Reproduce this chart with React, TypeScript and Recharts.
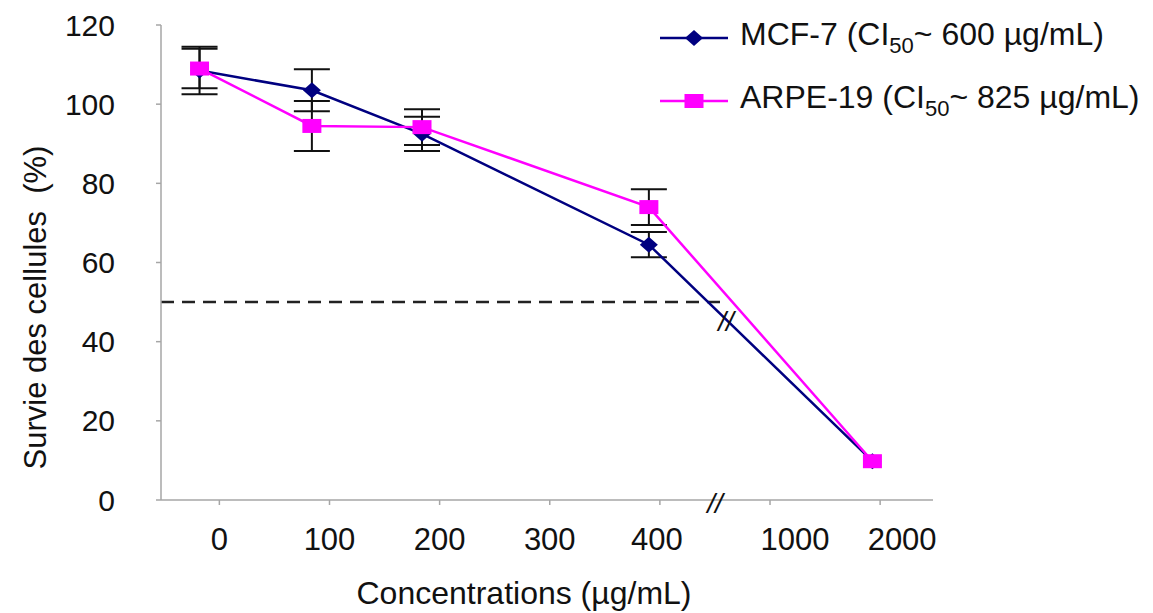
import React from 'react';
import {
  ComposedChart, Line, XAxis, YAxis, ErrorBar, ReferenceLine, ReferenceDot, Label,
} from 'recharts';

const xTickValues = [0, 1, 2, 3, 4, 5, 6];
const xTickLabels = ['0', '100', '200', '300', '400', '1000', '2000'];
const concentrations = ['0', '100', '200', '400', '2000'];
const xPositions = [-0.18, 0.84, 1.84, 3.9, 5.93];
const mcf7 = [108.5, 103.5, 92.5, 64.5, 9.8];
const mcf7Err = [6, 5.3, 4.3, 3.2, 0];
const arpe19 = [109, 94.5, 94.2, 74, 9.8];
const arpe19Err = [5, 6.3, 4.5, 4.5, 0];
const yTicks = [0, 20, 40, 60, 80, 100, 120];
const ic50Level = 50;
const dashEnd = 4.6;
const axisBreakX = 4.5;

// small horizontal nudges of the tick labels, as in the original figure
const tickLabelNudge: Record<string, number> = { '1000': 25, '2000': 22, '400': -3 };

const data = concentrations.map((c, i) => ({
  conc: c,
  x: xPositions[i],
  mcf: mcf7[i],
  mcfErr: mcf7Err[i],
  arpe: arpe19[i],
  arpeErr: arpe19Err[i],
}));

const FONT = '"Liberation Sans", Arial, Helvetica, sans-serif';
const NAVY = '#000080';
const MAGENTA = '#FF00FF';
const AXIS = '#a6a6a6';
const TEXT = '#111111';

const DiamondDot = (props: any) => {
  const { cx, cy } = props;
  if (cx == null || cy == null) return null;
  return (
    <polygon
      points={`${cx},${cy - 8} ${cx + 9},${cy} ${cx},${cy + 8} ${cx - 9},${cy}`}
      fill={NAVY}
    />
  );
};

const SquareDot = (props: any) => {
  const { cx, cy } = props;
  if (cx == null || cy == null) return null;
  return <rect x={cx - 9.5} y={cy - 7} width={19} height={14} fill={MAGENTA} />;
};

const BreakMark = (dy: number) => (props: any) => {
  const { cx, cy } = props;
  return (
    <text
      x={cx}
      y={cy + dy}
      textAnchor="middle"
      dominantBaseline="central"
      fontFamily={FONT}
      fontStyle="italic"
      fontSize={28}
      fill={TEXT}
    >
      //
    </text>
  );
};

const XTick = (props: any) => {
  const { x, y, payload } = props;
  const label = xTickLabels[payload.value] ?? '';
  const dx = tickLabelNudge[label] ?? 0;
  return (
    <text
      x={x + dx}
      y={y}
      dy="0.71em"
      textAnchor="middle"
      fontFamily={FONT}
      fontSize={31}
      fill={TEXT}
    >
      {label}
    </text>
  );
};

const legendRows = [
  { color: NAVY, shape: 'diamond', name: 'MCF-7', val: '600' },
  { color: MAGENTA, shape: 'square', name: 'ARPE-19', val: '825' },
];

const LegendBox = () => (
  <div style={{ position: 'absolute', left: 652, top: -2, fontFamily: FONT, fontSize: 32, color: TEXT }}>
    {legendRows.map((r) => (
      <div key={r.name} style={{ display: 'flex', alignItems: 'center', height: 63, whiteSpace: 'nowrap' }}>
        <svg width={68} height={20} style={{ marginRight: 12 }}>
          <line x1={0} x2={68} y1={10} y2={10} stroke={r.color} strokeWidth={2.5} />
          {r.shape === 'diamond' ? (
            <polygon points="34,2 43,10 34,18 25,10" fill={r.color} />
          ) : (
            <rect x={24.5} y={3} width={19} height={14} fill={r.color} />
          )}
        </svg>
        <span>
          {r.name} (CI<sub style={{ fontSize: 22, verticalAlign: -8 }}>50</sub>~ {r.val} µg/mL)
        </span>
      </div>
    ))}
  </div>
);

export default function App() {
  return (
    <div style={{ position: 'relative', width: 1145, height: 605 }}>
      <ComposedChart
        width={1145}
        height={605}
        data={data}
        margin={{ top: 17, right: 220, bottom: 53, left: 73 }}
        style={{ fontFamily: FONT }}
      >
        <XAxis
          dataKey="x"
          type="number"
          domain={[-0.53, 6.48]}
          allowDataOverflow
          ticks={xTickValues}
          interval={0}
          height={60}
          stroke={AXIS}
          strokeWidth={1.5}
          tickSize={5}
          tickMargin={23}
          tick={<XTick />}
        >
          <Label
            content={(p: any) => {
              const vb = p.viewBox;
              return (
                <text
                  x={vb.x + vb.width / 2 - 23}
                  y={vb.y + 104}
                  textAnchor="middle"
                  fontFamily={FONT}
                  fontSize={32}
                  fill={TEXT}
                >
                  Concentrations (µg/mL)
                </text>
              );
            }}
          />
        </XAxis>
        <YAxis
          type="number"
          domain={[0, 120]}
          ticks={yTicks}
          interval={0}
          width={80}
          stroke={AXIS}
          strokeWidth={1.5}
          tickSize={5}
          tickMargin={41}
          tick={{ fill: TEXT, fontSize: 30, fontFamily: FONT }}
        >
          <Label
            content={(p: any) => {
              const vb = p.viewBox;
              const cx = 27;
              const cy = vb.y + vb.height / 2 + 45;
              return (
                <text
                  x={cx}
                  y={cy}
                  transform={`rotate(-90 ${cx} ${cy})`}
                  textAnchor="middle"
                  dominantBaseline="central"
                  fontFamily={FONT}
                  fontSize={31}
                  fill={TEXT}
                  style={{ whiteSpace: 'pre' }}
                >
                  {'Survie des cellules  (%)'}
                </text>
              );
            }}
          />
        </YAxis>
        <ReferenceLine
          segment={[{ x: -0.53, y: ic50Level }, { x: dashEnd, y: ic50Level }]}
          stroke="#222"
          strokeWidth={2.5}
          strokeDasharray="13 8"
          ifOverflow="visible"
        />
        <ReferenceDot x={dashEnd} y={45} r={0} shape={BreakMark(0)} ifOverflow="visible" />
        <ReferenceDot x={axisBreakX} y={0} r={0} shape={BreakMark(3)} ifOverflow="visible" />
        <Line
          dataKey="mcf"
          stroke={NAVY}
          strokeWidth={2.5}
          dot={<DiamondDot />}
          activeDot={false}
          isAnimationActive={false}
          name="MCF-7"
        >
          <ErrorBar dataKey="mcfErr" direction="y" width={18} stroke="#111" strokeWidth={2} />
        </Line>
        <Line
          dataKey="arpe"
          stroke={MAGENTA}
          strokeWidth={2.5}
          dot={<SquareDot />}
          activeDot={false}
          isAnimationActive={false}
          name="ARPE-19"
        >
          <ErrorBar dataKey="arpeErr" direction="y" width={18} stroke="#111" strokeWidth={2} />
        </Line>
      </ComposedChart>
      <LegendBox />
    </div>
  );
}
